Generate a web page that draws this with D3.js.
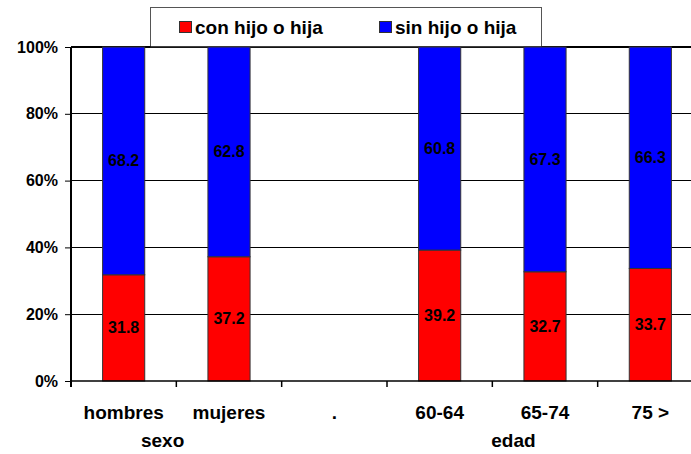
<!DOCTYPE html>
<html>
<head>
<meta charset="utf-8">
<script src="https://cdn.jsdelivr.net/npm/d3@7/dist/d3.min.js"></script>
<style>
  html, body { margin: 0; padding: 0; background: #fff; }
  svg { display: block; font-family: "Liberation Sans", Arial, sans-serif; font-weight: bold; }
</style>
</head>
<body>
<svg id="chart" width="691" height="454"></svg>
<script>
const categories = ["hombres", "mujeres", ".", "60-64", "65-74", "75 >"];
const conHijo = [31.8, 37.2, null, 39.2, 32.7, 33.7];
const sinHijo = [68.2, 62.8, null, 60.8, 67.3, 66.3];
const seriesNames = ["con hijo o hija", "sin hijo o hija"];
const seriesColors = ["#ff0000", "#0000ff"];
const yTicks = [0, 20, 40, 60, 80, 100];
const groupNames = ["sexo", "edad"];

(function () {
const svg = d3.select("#chart");
const mL = 71, mR = 703, mT = 47, mB = 381;

const x = d3.scaleBand().domain(categories).range([mL, mR]).paddingInner(0.6).paddingOuter(0.3);
const xCell = d3.scaleBand().domain(categories).range([mL, mR]).padding(0);
const y = d3.scaleLinear().domain([0, 100]).range([mB, mT]);

// gridlines
svg.append("g").selectAll("line").data(yTicks.filter(d => d > 0)).join("line")
  .attr("x1", mL).attr("x2", mR)
  .attr("y1", d => y(d)).attr("y2", d => y(d))
  .attr("stroke", "#000").attr("stroke-width", d => d === 100 ? 1.5 : 1)
  .attr("shape-rendering", "crispEdges");

// legend box
const lg = svg.append("g");
lg.append("rect").attr("x", 150.5).attr("y", 7.5).attr("width", 391).attr("height", 40)
  .attr("fill", "#fff").attr("stroke", "#555").attr("stroke-width", 1);
const legendX = [179, 379];
seriesNames.forEach((n, i) => {
  lg.append("rect").attr("x", legendX[i] + 0.5).attr("y", 21.5).attr("width", 12).attr("height", 11)
    .attr("fill", seriesColors[i]).attr("stroke", "#333").attr("stroke-width", 1);
  lg.append("text").attr("x", legendX[i] + 16).attr("y", 33.5)
    .attr("font-size", 19).attr("fill", "#000").text(n);
});
svg.append("line").attr("x1", mL).attr("x2", mR).attr("y1", y(100)).attr("y2", y(100))
  .attr("stroke", "#000").attr("stroke-width", 1.5);

// stacked bars
const rows = categories.map((c, i) => ({cat: c, con: conHijo[i], sin: sinHijo[i]}))
  .filter(r => r.con != null);
const bars = svg.append("g");
rows.forEach(r => {
  const segs = [
    {v0: 0, v1: r.con, color: seriesColors[0], val: r.con},
    {v0: r.con, v1: r.con + r.sin, color: seriesColors[1], val: r.sin}
  ];
  segs.forEach(s => {
    bars.append("rect")
      .attr("x", x(r.cat)).attr("width", x.bandwidth())
      .attr("y", y(s.v1)).attr("height", y(s.v0) - y(s.v1))
      .attr("fill", s.color).attr("stroke", "#333").attr("stroke-width", 1);
    bars.append("text")
      .attr("x", x(r.cat) + x.bandwidth() / 2)
      .attr("y", (y(s.v0) + y(s.v1)) / 2)
      .attr("text-anchor", "middle").attr("dominant-baseline", "central")
      .attr("font-size", 16).attr("fill", "#000")
      .text(s.val.toFixed(1));
  });
});

// y axis
const yAxis = d3.axisLeft(y).tickValues(yTicks).tickFormat(d => d + "%").tickSize(6).tickPadding(7);
const ya = svg.append("g").attr("transform", `translate(${mL},0)`).call(yAxis);
ya.select(".domain").attr("stroke", "#000").attr("stroke-width", 2).attr("d", `M0,${mT}V${mB + 6}`);
ya.selectAll(".tick line").attr("stroke", "#000");
ya.selectAll(".tick text").attr("font-size", 16).attr("font-family", "Liberation Sans, Arial, sans-serif")
  .attr("font-weight", "bold").attr("fill", "#000");

// x axis line and boundary ticks
svg.append("line").attr("x1", mL).attr("x2", mR).attr("y1", mB).attr("y2", mB)
  .attr("stroke", "#000").attr("stroke-width", 1.5);
const bounds = categories.map(c => xCell(c)).concat([mR]);
svg.append("g").selectAll("line").data(bounds).join("line")
  .attr("x1", d => d).attr("x2", d => d).attr("y1", mB).attr("y2", mB + 6)
  .attr("stroke", "#000").attr("stroke-width", 1.5);

// category labels
svg.append("g").selectAll("text").data(categories).join("text")
  .attr("x", d => x(d) + x.bandwidth() / 2).attr("y", 419)
  .attr("text-anchor", "middle").attr("font-size", 19).attr("fill", "#000")
  .text(d => d);

// group labels
const groupX = [xCell("hombres") + xCell.bandwidth() * 0.87, xCell("60-64") + xCell.bandwidth() * 1.2];
svg.append("g").selectAll("text").data(groupNames).join("text")
  .attr("x", (d, i) => groupX[i]).attr("y", 447)
  .attr("text-anchor", "middle").attr("font-size", 19).attr("fill", "#000")
  .text(d => d);
})();
</script>
</body>
</html>
